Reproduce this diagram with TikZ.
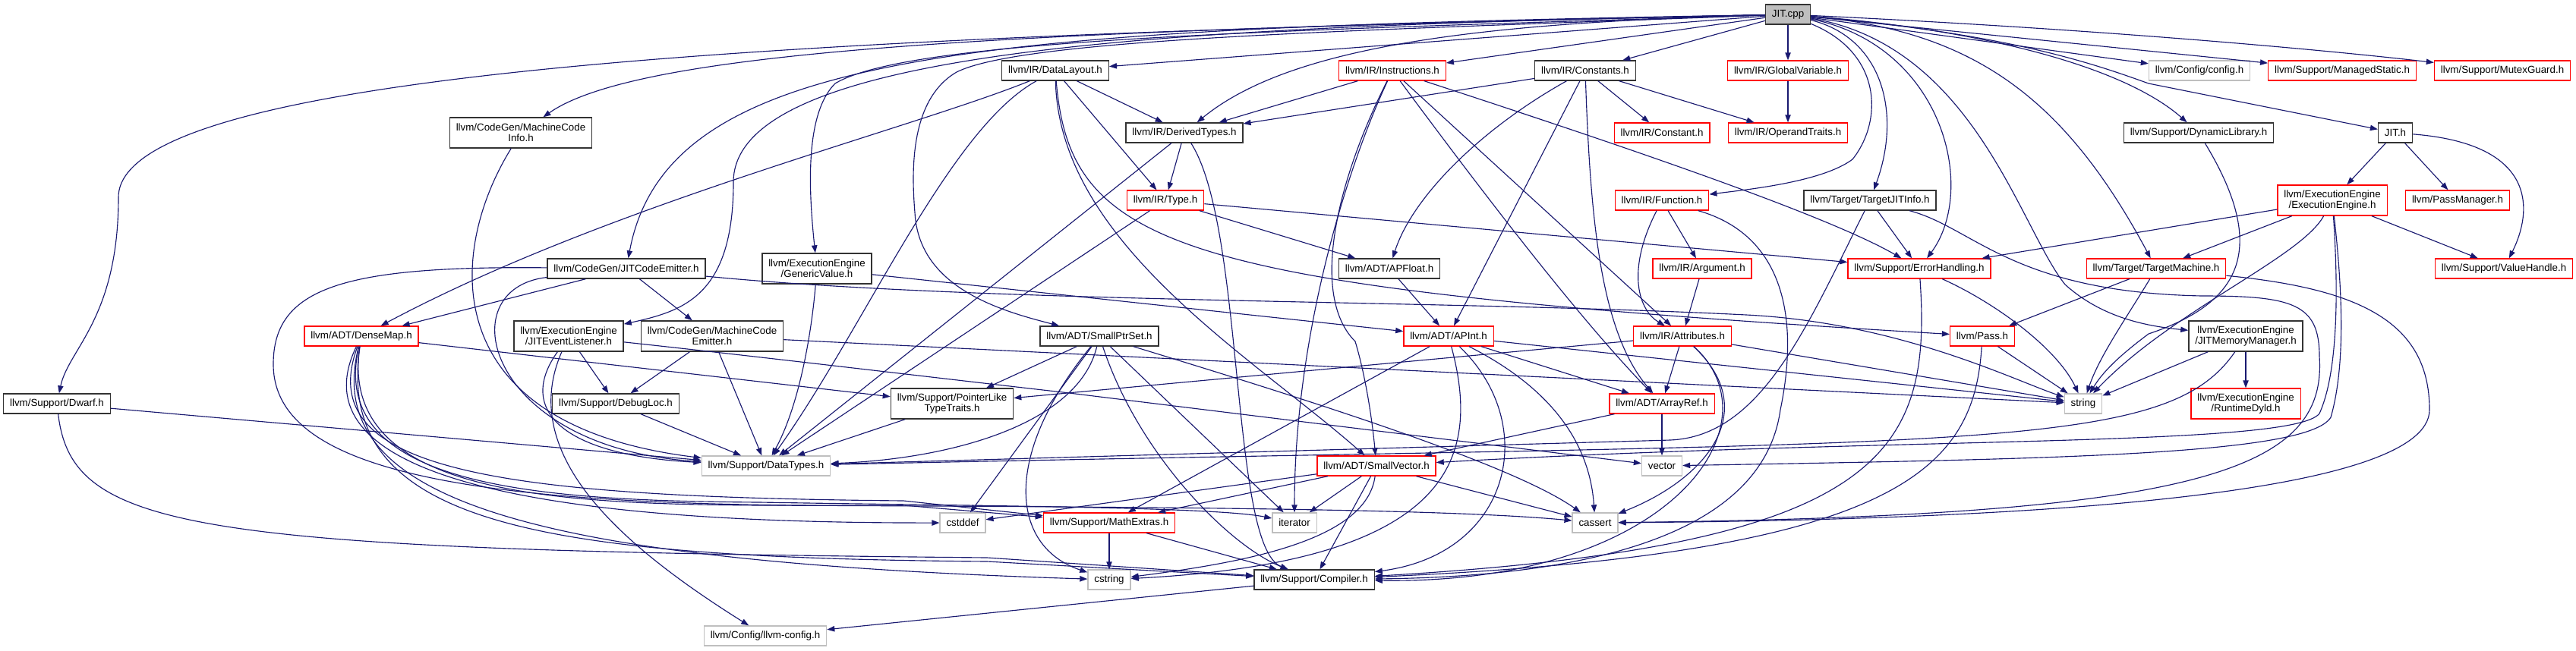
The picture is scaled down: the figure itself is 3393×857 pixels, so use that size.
\documentclass[tikz,border=0pt]{standalone}
\usepackage{fontspec}
\setmainfont{Liberation Sans}
\usetikzlibrary{arrows.meta}

\definecolor{edgenavy}{HTML}{191970}
\definecolor{sysgray}{HTML}{BFBFBF}

\begin{document}
\begin{tikzpicture}[
    x=0.75pt, y=-0.75pt,
    file_box/.style={draw=black!80, fill=white, line width=1pt, align=center,
      font=\fontsize{10}{10.5}\selectfont, inner xsep=6.3pt, inner ysep=1pt,
      minimum height=19.5pt},
    trunc_box/.style={file_box, draw=red},
    sys_box/.style={file_box, draw=sysgray},
    two_rows/.style={minimum height=30pt},
    inc_edge/.style={draw=edgenavy, line width=0.85pt,
      -{Triangle[length=7.5pt, width=5.5pt]}},
    ]

    \fill[white] (0,0) rectangle (3393,857);
    \useasboundingbox (0,0) rectangle (3393,857);

    % --- The file itself ---
    \node[file_box, fill=sysgray] (jitcpp) at (2355,19) {JIT.cpp};

    % --- Direct includes, first row ---
    \node[file_box] (datalayout) at (1390,93) {llvm/IR/DataLayout.h};
    \node[trunc_box] (instructions) at (1834,93) {llvm/IR/Instructions.h};
    \node[file_box] (constants) at (2088,93) {llvm/IR/Constants.h};
    \node[trunc_box] (globalvar) at (2355,93) {llvm/IR/GlobalVariable.h};
    \node[sys_box] (config) at (2897,93) {llvm/Config/config.h};
    \node[trunc_box] (managedstatic) at (3085,93) {llvm/Support/ManagedStatic.h};
    \node[trunc_box] (mutexguard) at (3296,93) {llvm/Support/MutexGuard.h};

    % --- Second row ---
    \node[file_box, two_rows] (mcinfo) at (686,175) {llvm/CodeGen/MachineCode\\Info.h};
    \node[file_box] (derivedtypes) at (1560,175) {llvm/IR/DerivedTypes.h};
    \node[trunc_box] (constant) at (2189,175) {llvm/IR/Constant.h};
    \node[trunc_box] (operandtraits) at (2355,175) {llvm/IR/OperandTraits.h};
    \node[file_box] (dynlib) at (2896,175) {llvm/Support/DynamicLibrary.h};
    \node[file_box] (jith) at (3155,175) {JIT.h};

    % --- Third row ---
    \node[trunc_box] (typeh) at (1535,264) {llvm/IR/Type.h};
    \node[trunc_box] (function) at (2189,264) {llvm/IR/Function.h};
    \node[file_box] (targetjitinfo) at (2463,264) {llvm/Target/TargetJITInfo.h};
    \node[trunc_box, two_rows] (execengine) at (3072,264) {llvm/ExecutionEngine\\/ExecutionEngine.h};
    \node[trunc_box] (passmanager) at (3237,264) {llvm/PassManager.h};

    % --- Fourth row ---
    \node[file_box] (jitcodeemitter) at (825,354) {llvm/CodeGen/JITCodeEmitter.h};
    \node[file_box, two_rows] (genericvalue) at (1076,354) {llvm/ExecutionEngine\\/GenericValue.h};
    \node[file_box] (apfloat) at (1830,354) {llvm/ADT/APFloat.h};
    \node[trunc_box] (argument) at (2242,354) {llvm/IR/Argument.h};
    \node[trunc_box] (errorhandling) at (2528,354) {llvm/Support/ErrorHandling.h};
    \node[trunc_box] (targetmachine) at (2840,354) {llvm/Target/TargetMachine.h};
    \node[trunc_box] (valuehandle) at (3298,354) {llvm/Support/ValueHandle.h};

    % --- Fifth row ---
    \node[trunc_box] (densemap) at (476,443) {llvm/ADT/DenseMap.h};
    \node[file_box, two_rows] (jitlistener) at (749,443) {llvm/ExecutionEngine\\/JITEventListener.h};
    \node[file_box, two_rows] (mcemitter) at (938,443) {llvm/CodeGen/MachineCode\\Emitter.h};
    \node[file_box] (smallptrset) at (1448,443) {llvm/ADT/SmallPtrSet.h};
    \node[trunc_box] (apint) at (1908,443) {llvm/ADT/APInt.h};
    \node[trunc_box] (attributes) at (2216,443) {llvm/IR/Attributes.h};
    \node[trunc_box] (pass) at (2611,443) {llvm/Pass.h};
    \node[file_box, two_rows] (jitmemmgr) at (2958,443) {llvm/ExecutionEngine\\/JITMemoryManager.h};

    % --- Sixth row ---
    \node[file_box] (dwarf) at (75,532) {llvm/Support/Dwarf.h};
    \node[file_box] (debugloc) at (811,532) {llvm/Support/DebugLoc.h};
    \node[file_box, two_rows] (ptrlike) at (1254,532) {llvm/Support/PointerLike\\TypeTraits.h};
    \node[trunc_box] (arrayref) at (2189,532) {llvm/ADT/ArrayRef.h};
    \node[sys_box] (string) at (2744,532) {string};
    \node[trunc_box, two_rows] (runtimedyld) at (2958,532) {llvm/ExecutionEngine\\/RuntimeDyld.h};

    % --- Lower rows ---
    \node[sys_box] (datatypes) at (1009,614) {llvm/Support/DataTypes.h};
    \node[trunc_box] (smallvector) at (1813,614) {llvm/ADT/SmallVector.h};
    \node[sys_box] (vector) at (2189,614) {vector};

    \node[sys_box] (cstddef) at (1268,689) {cstddef};
    \node[trunc_box] (mathextras) at (1461,689) {llvm/Support/MathExtras.h};
    \node[sys_box] (iterator) at (1705,689) {iterator};
    \node[sys_box] (cassert) at (2101,689) {cassert};

    \node[sys_box] (cstring) at (1461,764) {cstring};
    \node[file_box] (compiler) at (1731,764) {llvm/Support/Compiler.h};

    \node[sys_box] (llvmconfig) at (1008,838) {llvm/Config/llvm-config.h};

    % --- JIT.cpp includes ---
    \draw[inc_edge] (jitcpp) .. controls (1200,45) and (156,80) .. (156,260) .. controls (156,420) and (90,460) .. (dwarf);
    \draw[inc_edge] (jitcpp) .. controls (1400,40) and (850,60) .. (mcinfo);
    \draw[inc_edge] (jitcpp) .. controls (1300,38) and (880,60) .. (jitcodeemitter);
    \draw[inc_edge] (jitcpp) .. controls (1600,35) and (966,55) .. (966,240) .. controls (966,390) and (900,410) .. (jitlistener);
    \draw[inc_edge] (jitcpp) .. controls (1700,40) and (1200,50) .. (1100,110) .. controls (1060,150) and (1065,250) .. (genericvalue);
    \draw[inc_edge] (jitcpp) .. controls (1800,40) and (1350,50) .. (1260,95) .. controls (1200,130) and (1200,220) .. (1205,280) .. controls (1210,380) and (1320,410) .. (smallptrset);
    \draw[inc_edge] (jitcpp) -- (datalayout);
    \draw[inc_edge] (jitcpp) .. controls (1950,30) and (1700,60) .. (derivedtypes);
    \draw[inc_edge] (jitcpp) -- (instructions);
    \draw[inc_edge] (jitcpp) -- (constants);
    \draw[inc_edge] (jitcpp) -- (globalvar);
    \draw[inc_edge] (jitcpp) .. controls (2480,70) and (2480,160) .. (2440,210) .. controls (2400,240) and (2300,250) .. (function);
    \draw[inc_edge] (jitcpp) .. controls (2480,50) and (2505,150) .. (targetjitinfo);
    \draw[inc_edge] (jitcpp) .. controls (2560,60) and (2605,250) .. (errorhandling);
    \draw[inc_edge] (jitcpp) .. controls (2600,40) and (2720,130) .. (targetmachine);
    \draw[inc_edge] (jitcpp) .. controls (2600,60) and (2660,300) .. (2720,375) .. controls (2770,420) and (2830,430) .. (jitmemmgr);
    \draw[inc_edge] (jitcpp) .. controls (2620,40) and (2800,90) .. (dynlib);
    \draw[inc_edge] (jitcpp) .. controls (2650,45) and (2760,85) .. (2830,110) -- (jith);
    \draw[inc_edge] (jitcpp) -- (config);
    \draw[inc_edge] (jitcpp) -- (managedstatic);
    \draw[inc_edge] (jitcpp) .. controls (2800,40) and (3100,70) .. (mutexguard);

    % --- JIT.h ---
    \draw[inc_edge] (jith) -- (execengine);
    \draw[inc_edge] (jith) -- (passmanager);
    \draw[inc_edge] (jith) .. controls (3345,190) and (3335,280) .. (valuehandle);

    % --- ExecutionEngine.h ---
    \draw[inc_edge] (execengine) -- (errorhandling);
    \draw[inc_edge] (execengine) -- (targetmachine);
    \draw[inc_edge] (execengine) -- (valuehandle);
    \draw[inc_edge] (execengine) .. controls (3030,340) and (2860,410) .. (string);
    \draw[inc_edge] (execengine) .. controls (3085,380) and (3090,480) .. (3070,550) .. controls (3040,600) and (2700,605) .. (vector);
    \draw[inc_edge] (execengine) .. controls (3080,380) and (3080,490) .. (3055,545) .. controls (3020,590) and (2500,575) .. (smallvector);

    % --- TargetJITInfo.h ---
    \draw[inc_edge] (targetjitinfo) -- (errorhandling);
    \draw[inc_edge] (targetjitinfo) .. controls (2380,430) and (2320,575) .. (2200,580) -- (datatypes);
    \draw[inc_edge] (targetjitinfo) .. controls (2600,300) and (2650,385) .. (2900,390) .. controls (3020,390) and (3055,400) .. (3055,470) .. controls (3065,620) and (2900,680) .. (cassert);

    % --- TargetMachine.h ---
    \draw[inc_edge] (targetmachine) -- (pass);
    \draw[inc_edge] (targetmachine) .. controls (2800,420) and (2765,470) .. (string);
    \draw[inc_edge] (targetmachine) .. controls (3100,380) and (3200,420) .. (3200,540) .. controls (3200,650) and (2700,685) .. (cassert);

    % --- ErrorHandling.h, Pass.h, DynamicLibrary.h ---
    \draw[inc_edge] (errorhandling) .. controls (2630,400) and (2710,460) .. (string);
    \draw[inc_edge] (errorhandling) .. controls (2545,600) and (2480,720) .. (compiler);
    \draw[inc_edge] (pass) -- (string);
    \draw[inc_edge] (pass) .. controls (2600,620) and (2500,730) .. (compiler);
    \draw[inc_edge] (dynlib) .. controls (2990,330) and (2950,400) .. (2830,440) .. controls (2790,470) and (2770,490) .. (string);

    % --- JITMemoryManager.h ---
    \draw[inc_edge] (jitmemmgr) -- (string);
    \draw[inc_edge] (jitmemmgr) -- (runtimedyld);
    \draw[inc_edge] (jitmemmgr) .. controls (2850,600) and (2600,580) .. (datatypes);

    % --- DataLayout.h ---
    \draw[inc_edge] (datalayout) -- (derivedtypes);
    \draw[inc_edge] (datalayout) -- (typeh);
    \draw[inc_edge] (datalayout) .. controls (1200,170) and (800,270) .. (densemap);
    \draw[inc_edge] (datalayout) .. controls (1250,170) and (1140,430) .. (datatypes);
    \draw[inc_edge] (datalayout) .. controls (1395,320) and (1650,470) .. (smallvector);
    \draw[inc_edge] (datalayout) .. controls (1410,330) and (1550,380) .. (pass);

    % --- Instructions.h ---
    \draw[inc_edge] (instructions) -- (derivedtypes);
    \draw[inc_edge] (instructions) .. controls (1770,230) and (1705,450) .. (iterator);
    \draw[inc_edge] (instructions) .. controls (1760,240) and (1725,390) .. (1785,450) .. controls (1800,500) and (1808,560) .. (smallvector);
    \draw[inc_edge] (instructions) .. controls (1950,250) and (2080,420) .. (arrayref);
    \draw[inc_edge] (instructions) -- (attributes);
    \draw[inc_edge] (instructions) .. controls (2100,180) and (2400,280) .. (errorhandling);

    % --- Constants.h ---
    \draw[inc_edge] (constants) -- (derivedtypes);
    \draw[inc_edge] (constants) .. controls (1950,170) and (1860,260) .. (apfloat);
    \draw[inc_edge] (constants) -- (apint);
    \draw[inc_edge] (constants) .. controls (2095,300) and (2110,440) .. (arrayref);
    \draw[inc_edge] (constants) -- (constant);
    \draw[inc_edge] (constants) -- (operandtraits);
    \draw[inc_edge] (globalvar) -- (operandtraits);

    % --- DerivedTypes.h, Type.h ---
    \draw[inc_edge] (derivedtypes) -- (typeh);
    \draw[inc_edge] (derivedtypes) -- (datatypes);
    \draw[inc_edge] (derivedtypes) .. controls (1640,300) and (1620,720) .. (compiler);
    \draw[inc_edge] (typeh) -- (errorhandling);
    \draw[inc_edge] (typeh) -- (apfloat);
    \draw[inc_edge] (typeh) -- (datatypes);

    % --- Function.h, Argument.h, APFloat.h ---
    \draw[inc_edge] (function) -- (argument);
    \draw[inc_edge] (function) .. controls (2140,360) and (2160,410) .. (attributes);
    \draw[inc_edge] (function) .. controls (2350,310) and (2370,420) .. (2345,540) .. controls (2320,720) and (2050,760) .. (compiler);
    \draw[inc_edge] (argument) -- (attributes);
    \draw[inc_edge] (apfloat) -- (apint);

    % --- GenericValue.h ---
    \draw[inc_edge] (genericvalue) -- (apint);
    \draw[inc_edge] (genericvalue) .. controls (1068,450) and (1050,540) .. (datatypes);

    % --- JITCodeEmitter.h ---
    \draw[inc_edge] (jitcodeemitter) -- (densemap);
    \draw[inc_edge] (jitcodeemitter) -- (mcemitter);
    \draw[inc_edge] (jitcodeemitter) .. controls (590,380) and (640,590) .. (datatypes);
    \draw[inc_edge] (jitcodeemitter) .. controls (450,350) and (360,380) .. (360,480) .. controls (360,630) and (650,670) .. (1190,666) -- (mathextras);
    \draw[inc_edge] (jitcodeemitter) .. controls (1300,400) and (1900,395) .. (2300,415) .. controls (2500,425) and (2650,500) .. (string);

    % --- JITEventListener.h, MachineCodeEmitter.h ---
    \draw[inc_edge] (jitlistener) -- (debugloc);
    \draw[inc_edge] (jitlistener) .. controls (680,540) and (740,600) .. (datatypes);
    \draw[inc_edge] (jitlistener) .. controls (680,600) and (820,720) .. (llvmconfig);
    \draw[inc_edge] (jitlistener) .. controls (1000,470) and (1250,500) .. (1400,517) -- (vector);
    \draw[inc_edge] (mcemitter) -- (debugloc);
    \draw[inc_edge] (mcemitter) -- (datatypes);
    \draw[inc_edge] (mcemitter) -- (string);
    \draw[inc_edge] (debugloc) -- (datatypes);
    \draw[inc_edge] (mcinfo) .. controls (590,330) and (570,560) .. (datatypes);

    % --- Dwarf.h ---
    \draw[inc_edge] (dwarf) -- (datatypes);
    \draw[inc_edge] (dwarf) .. controls (95,700) and (250,725) .. (1300,735) -- (compiler);

    % --- DenseMap.h ---
    \draw[inc_edge] (densemap) -- (ptrlike);
    \draw[inc_edge] (densemap) .. controls (400,600) and (600,690) .. (cstddef);
    \draw[inc_edge] (densemap) .. controls (410,620) and (650,655) .. (1190,660) -- (mathextras);
    \draw[inc_edge] (densemap) .. controls (430,640) and (700,660) .. (1000,662) .. controls (1300,667) and (1600,668) .. (iterator);
    \draw[inc_edge] (densemap) .. controls (445,650) and (720,664) .. (1000,666) .. controls (1500,668) and (1900,670) .. (cassert);
    \draw[inc_edge] (densemap) .. controls (420,660) and (700,740) .. (cstring);
    \draw[inc_edge] (densemap) .. controls (440,690) and (700,735) .. (1300,740) -- (compiler);

    % --- SmallPtrSet.h ---
    \draw[inc_edge] (smallptrset) -- (ptrlike);
    \draw[inc_edge] (smallptrset) .. controls (1420,560) and (1250,605) .. (datatypes);
    \draw[inc_edge] (smallptrset) -- (cstddef);
    \draw[inc_edge] (smallptrset) .. controls (1320,600) and (1330,720) .. (cstring);
    \draw[inc_edge] (smallptrset) .. controls (1500,600) and (1620,720) .. (compiler);
    \draw[inc_edge] (smallptrset) -- (iterator);
    \draw[inc_edge] (smallptrset) .. controls (1700,520) and (1990,610) .. (cassert);

    % --- APInt.h ---
    \draw[inc_edge] (apint) -- (arrayref);
    \draw[inc_edge] (apint) -- (string);
    \draw[inc_edge] (apint) -- (mathextras);
    \draw[inc_edge] (apint) .. controls (1950,600) and (1920,740) .. (cstring);
    \draw[inc_edge] (apint) .. controls (2030,560) and (1990,730) .. (compiler);
    \draw[inc_edge] (apint) .. controls (2060,520) and (2095,600) .. (cassert);

    % --- Attributes.h, ArrayRef.h ---
    \draw[inc_edge] (attributes) -- (arrayref);
    \draw[inc_edge] (attributes) -- (ptrlike);
    \draw[inc_edge] (attributes) -- (string);
    \draw[inc_edge] (attributes) .. controls (2320,540) and (2250,630) .. (cassert);
    \draw[inc_edge] (attributes) .. controls (2345,560) and (2200,770) .. (compiler);
    \draw[inc_edge] (arrayref) -- (smallvector);
    \draw[inc_edge] (arrayref) -- (vector);
    \draw[inc_edge] (ptrlike) -- (datatypes);

    % --- SmallVector.h, MathExtras.h, Compiler.h ---
    \draw[inc_edge] (smallvector) -- (iterator);
    \draw[inc_edge] (smallvector) -- (cassert);
    \draw[inc_edge] (smallvector) -- (compiler);
    \draw[inc_edge] (smallvector) -- (cstddef);
    \draw[inc_edge] (smallvector) -- (mathextras);
    \draw[inc_edge] (smallvector) .. controls (1800,710) and (1650,740) .. (cstring);
    \draw[inc_edge] (mathextras) -- (cstring);
    \draw[inc_edge] (mathextras) -- (compiler);
    \draw[inc_edge] (compiler) -- (llvmconfig);

\end{tikzpicture}
\end{document}
